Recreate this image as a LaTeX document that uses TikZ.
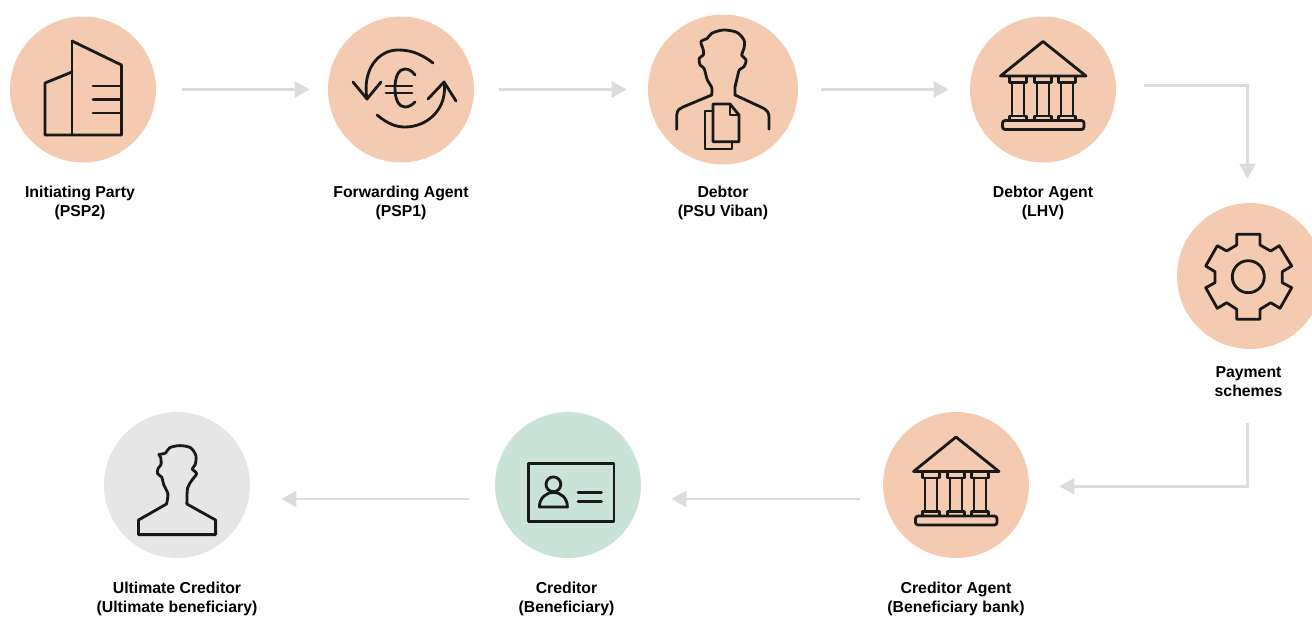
\documentclass[tikz,border=0pt]{standalone}
\usepackage{fontspec}
\setmainfont{Liberation Sans}
\usepackage{tikz}
\usetikzlibrary{arrows.meta}
\definecolor{peach}{RGB}{244,203,177}
\definecolor{mint}{RGB}{201,227,217}
\definecolor{pale}{RGB}{230,230,230}
\definecolor{flow}{RGB}{220,220,220}
\tikzset{
   party/.style = {circle, fill = #1, inner sep = 0pt, minimum size = 2.92cm},
   caption/.style = {align = center, inner sep = 0pt, font = \fontsize{9}{10.8}\selectfont\bfseries},
   flowline/.style = {arrows={-Triangle[length = 0.3cm, width = 0.32cm]}, draw = flow, line width = 1.5pt},
   icon/.style = {draw = black!90, line width = 1.6pt, line join = round, line cap = round}
}
\newcommand{\bankicon}{
   \draw [icon] (0,-48) -- (43,-13.5) -- (-42.5,-13.5) -- cycle;
   \foreach \colx in {-25,0,24} {
      \draw [icon] (\colx-8.5,-13.5) rectangle (\colx+8.5,-7);
      \draw [icon] (\colx-6,-7) -- (\colx-6,26.5);
      \draw [icon] (\colx+6,-7) -- (\colx+6,26.5);
      \draw [icon] (\colx-8.5,26.5) rectangle (\colx+8.5,31);
   }
   \draw [icon, rounded corners = 1.5pt] (-40.5,31) rectangle (41,40);
}
\begin{document}
\begin{tikzpicture}[x = 0.02cm, y = -0.02cm]
            \useasboundingbox (0,0) rectangle (1312,616);
            \node [party = peach] (init-party) at (83,89.5) {};
            \node [party = peach] (fwd-agent) at (401,89.5) {};
            \node [party = peach, minimum size = 3cm] (debtor) at (723,89.5) {};
            \node [party = peach] (debtor-agent) at (1043,89.5) {};
            \node [party = peach] (schemes) at (1250,276) {};
            \node [party = peach] (creditor-agent) at (956,485) {};
            \node [party = mint] (creditor) at (568,485) {};
            \node [party = pale] (ult-creditor) at (177,485) {};
            \node [caption, below of = init-party, node distance = 2.26cm, xshift = -0.06cm] (init-party-text){Initiating Party\\(PSP2)};
            \node [caption, below of = fwd-agent, node distance = 2.26cm] (fwd-agent-text){Forwarding Agent\\(PSP1)};
            \node [caption, below of = debtor, node distance = 2.26cm] (debtor-text){Debtor\\(PSU Viban)};
            \node [caption, below of = debtor-agent, node distance = 2.26cm] (debtor-agent-text){Debtor Agent\\(LHV)};
            \node [caption, below of = schemes, node distance = 2.12cm, xshift = -0.03cm] (schemes-text){Payment\\schemes};
            \node [caption, below of = creditor-agent, node distance = 2.28cm] (creditor-agent-text){Creditor Agent\\(Beneficiary bank)};
            \node [caption, below of = creditor, node distance = 2.28cm, xshift = -0.03cm] (creditor-text){Creditor\\(Beneficiary)};
            \node [caption, below of = ult-creditor, node distance = 2.28cm] (ult-creditor-text){Ultimate Creditor\\(Ultimate beneficiary)};
            \draw [flowline, shorten < = 0.51cm, shorten > = 0.36cm] (init-party) -- (fwd-agent);
            \draw [flowline, shorten < = 0.5cm, shorten > = 0.42cm] (fwd-agent) -- (debtor);
            \draw [flowline, shorten < = 0.46cm, shorten > = 0.42cm] (debtor) -- (debtor-agent);
            \draw [flowline, shorten < = 0.56cm, shorten > = 0.48cm] (debtor-agent.3) -| (schemes.92);
            \draw [flowline, shorten < = 1.48cm, shorten > = 0.6cm] (schemes.268) |- (creditor-agent.359);
            \draw [flowline, shorten < = 0.49cm, shorten > = 0.63cm] (creditor-agent.191) -- (creditor.349);
            \draw [flowline, shorten < = 0.55cm, shorten > = 0.65cm] (creditor.191) -- (ult-creditor.349);
            \draw [icon] (72,41) -- (121.5,65) -- (121.5,135) -- (45,135) -- (45,83) -- (72,72);
            \draw [icon] (72,41) -- (72,135);
            \foreach \liney in {86,99.5,113} {
               \draw [icon] (93,\liney) -- (121,\liney);
            }
            \draw [icon] (433,63) .. controls (420,53) and (410,50) .. (398,50) .. controls (378,50) and (362,70) .. (367,99);
            \draw [icon] (353,82) -- (367,99) -- (381,82);
            \draw [icon] (377,115) .. controls (388,124) and (396,127) .. (405,127) .. controls (428,127) and (448,108) .. (444,82);
            \draw [icon] (428,99) -- (444,82) -- (456,101);
            \draw [icon] (415,75) .. controls (412,71) and (409,69) .. (405,69) .. controls (399,69) and (395,76) .. (395,88) .. controls (395,100) and (399,107) .. (405,107) .. controls (409,107) and (412,105) .. (415,102);
            \draw [icon] (386,86) -- (412,86);
            \draw [icon] (386,93) -- (412,93);
            \draw [icon] (676.7,129.3) -- (676.7,115) .. controls (677,110) and (680,108) .. (683,107) -- (711.7,95) -- plot [smooth, tension = 0.5] coordinates {(711.7,95) (711.7,87.3) (707.3,80) (704,68.3) (700,65) (699.3,58.3) (703.3,55) (703.3,50) (701,41.7) (707.3,38.3) (711.7,33.3) (723.3,30) (736.7,32.3) (744,40) (744,48.3) (741.7,55) (746,60) (744,66.7) (739.3,70) (736.7,80) (735,87.3) (735,95)} -- (763,108) .. controls (767,110) and (769,113) .. (769,116.7) -- (769,129.3);
            \draw [icon] (713,104) -- (730,104) -- (739,115) -- (739,141.7) -- (713,141.7) -- cycle;
            \draw [icon] (730,104) -- (730,115) -- (739,115);
            \draw [icon] (713,111) -- (705,111) -- (705,149) -- (732,149) -- (732,141.7);
            \begin{scope}[shift = {(debtor-agent.center)}]
               \bankicon
            \end{scope}
            \begin{scope}[shift = {(creditor-agent.center)}]
               \bankicon
            \end{scope}
            \draw [icon] (1236.7,245) -- (1236.7,234.3) -- (1260,234.3) -- (1260,245) -- (1270.7,251) -- (1279.3,245.7) -- (1291.7,266) -- (1282.3,271.7) -- (1282.3,282.7) -- (1291.7,287.7) -- (1280,308.3) -- (1270.7,302.7) -- (1260,309.3) -- (1260,319.3) -- (1236.7,319.3) -- (1236.7,309.3) -- (1226.7,302.7) -- (1217.3,308.3) -- (1205.7,287.7) -- (1215,282.7) -- (1215,271.7) -- (1205.7,266) -- (1217.3,245.7) -- (1226.7,251) -- cycle;
            \draw [icon] (1248.3,276.7) circle (16);
            \draw [icon] (528.6,463.5) rectangle (614,521.3);
            \draw [icon] (553.4,484.3) circle (7.4);
            \draw [icon] (539.4,507) .. controls (539.4,498) and (546,492.5) .. (553.4,492.5) .. controls (561,492.5) and (567.4,498) .. (567.4,507) -- cycle;
            \draw [icon] (578,492.6) -- (601.5,492.6);
            \draw [icon] (578,501.2) -- (601.5,501.2);
            \draw [icon] (138.5,534.6) -- (215.6,534.6) -- (215.6,520) -- (186.9,504) -- plot [smooth, tension = 0.5] coordinates {(186.9,504) (187.6,488) (192.3,479.7) (196.6,473.6) (192.3,468.9) (195.2,464.6) (195.9,455.6) (190.5,447.7) (179.7,445.6) (169.7,447.7) (165.4,453.1) (158.9,454.6) (160.7,457.4) (161,464.6) (158.2,468.2) (157.5,473.6) (161.8,477.2) (163.6,484.4) (167.9,494) (166.5,504)} -- (138.5,520) -- cycle;
         \end{tikzpicture}
\end{document}
